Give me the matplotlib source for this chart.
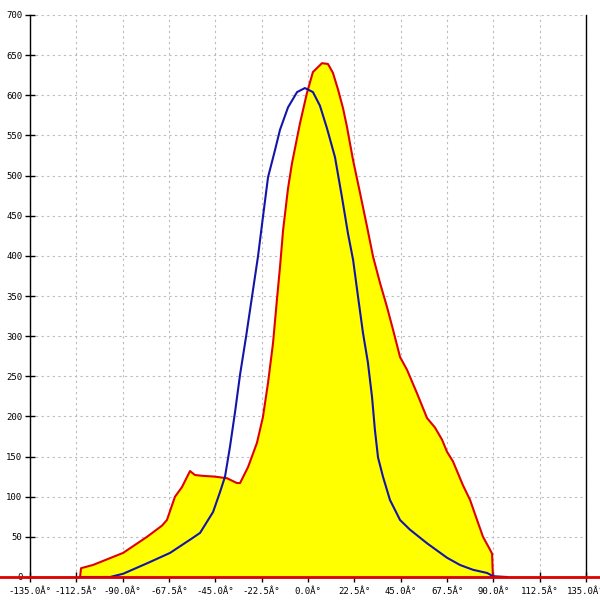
import numpy as np
import matplotlib
matplotlib.use("Agg")
import matplotlib.pyplot as plt

# red series (filled yellow) - angle in degrees, count
red_angle = [-110.7, -110.2, -104.4, -89.8, -78.2, -70.9, -68.5, -64.6, -61.2, -57.3,
             -54.9, -51.0, -45.2, -39.3, -34.5, -33.0, -29.1, -24.8, -21.9, -19.4,
             -17.0, -15.1, -13.6, -12.1, -9.7, -7.8, -3.9, -0.5, 2.4, 6.8,
             9.7, 12.1, 14.6, 17.0, 18.9, 21.9, 25.3, 28.7, 31.6, 35.0,
             38.4, 41.3, 44.7, 48.1, 52.9, 57.8, 61.7, 65.1, 67.5, 70.4,
             75.3, 78.7, 82.1, 85.0, 88.4, 89.4, 89.8]
red_value = [0, 11, 15, 30, 50, 64, 71, 100, 112, 132,
             127, 126, 125, 123, 117, 117, 137, 167, 199, 242,
             291, 345, 386, 432, 484, 515, 565, 603, 629, 640,
             639, 628, 607, 584, 561, 519, 478, 436, 399, 366,
             336, 308, 274, 258, 229, 198, 186, 171, 156, 144,
             114, 96, 71, 50, 34, 29, 0]

# blue series (fitted curve)
blue_angle = [-110.7, -96.1, -89.8, -78.2, -67.0, -55.8, -52.4, -46.1, -42.7, -40.3,
              -37.9, -35.4, -33.0, -30.1, -27.2, -24.3, -21.9, -19.4, -16.0, -13.6,
              -9.7, -5.3, -1.5, 2.4, 5.8, 9.2, 13.1, 16.5, 19.4, 21.9,
              24.3, 26.7, 29.1, 31.1, 32.5, 34.0, 36.4, 39.8, 44.7, 49.5,
              57.8, 67.5, 73.8, 80.1, 87.0, 89.8, 96.6]
blue_value = [0, 0, 4, 17, 30, 49, 55, 81, 106, 125,
              162, 206, 252, 299, 349, 399, 448, 498, 532, 557,
              585, 604, 609, 604, 587, 559, 523, 473, 428, 395,
              349, 304, 267, 224, 183, 149, 125, 96, 71, 59,
              42, 24, 15, 9, 5, 1, 0]

x_ticks = [-135, -112.5, -90, -67.5, -45, -22.5, 0, 22.5, 45, 67.5, 90, 112.5, 135]
x_labels = ["%.1fÂ°" % t for t in x_ticks]
y_ticks = list(range(0, 701, 50))

fig = plt.figure(figsize=(6, 6), dpi=100)
ax = fig.add_axes([30 / 600, 1 - 577 / 600, 556 / 600, 562 / 600])

ax.fill_between(red_angle, red_value, 0, color="#ffff00", lw=0, zorder=2)
ax.plot(red_angle, red_value, color="#e00000", lw=1.5, zorder=3)
ax.plot(blue_angle, blue_value, color="#1414a8", lw=1.5, zorder=4)
# baseline of the red series runs across the whole picture
ax.axhline(0, xmin=-0.06, xmax=1.03, color="#e00000", lw=2, clip_on=False, zorder=5)

ax.set_xlim(-135, 135)
ax.set_ylim(0, 700)
ax.set_xticks(x_ticks)
ax.set_xticklabels(x_labels)
ax.set_yticks(y_ticks)

ax.grid(True, color="#bbbbbb", ls=(0, (2, 3)), lw=0.8, zorder=1)
ax.set_axisbelow(True)

ax.spines["top"].set_visible(False)
for side in ["left", "right", "bottom"]:
    ax.spines[side].set_color("black")
    ax.spines[side].set_linewidth(1)

ax.tick_params(axis="both", direction="inout", length=7, width=1, colors="black",
               labelsize=6.5, pad=2)
ax.tick_params(axis="x", pad=4)
for lab in ax.get_xticklabels() + ax.get_yticklabels():
    lab.set_family("DejaVu Sans Mono")

fig.savefig("out.png", dpi=100)
